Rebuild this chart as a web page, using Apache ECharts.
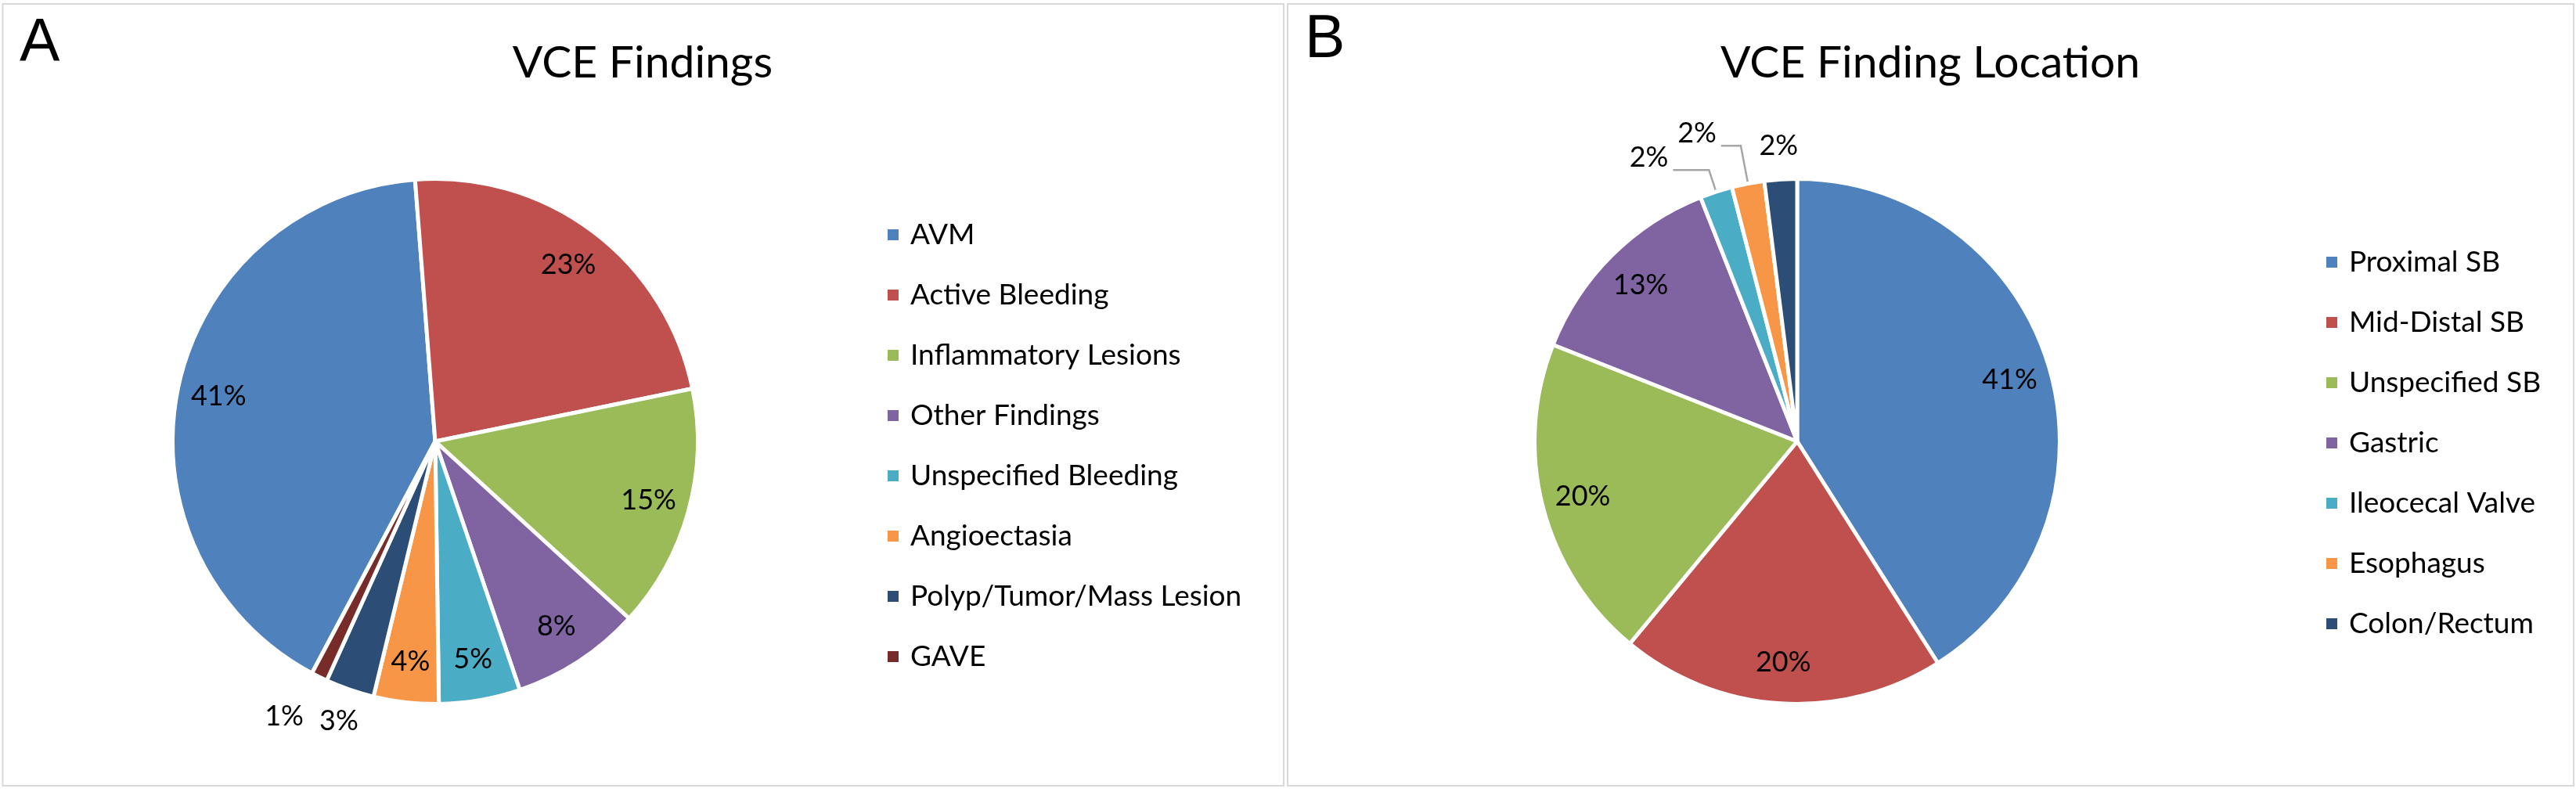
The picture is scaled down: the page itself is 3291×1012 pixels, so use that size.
<!DOCTYPE html>
<html>
<head>
<meta charset="utf-8">
<script src="https://cdn.jsdelivr.net/npm/echarts@6/dist/echarts.min.js"></script>
<style>
html,body{margin:0;padding:0;background:#fff;}
#chart{width:3291px;height:1012px;}
</style>
</head>
<body>
<div id="chart"></div>
<script>
// ---- Data ----
const categoriesA = ['AVM', 'Active Bleeding', 'Inflammatory Lesions', 'Other Findings', 'Unspecified Bleeding', 'Angioectasia', 'Polyp/Tumor/Mass Lesion', 'GAVE'];
const valuesA = [41, 23, 15, 8, 5, 4, 3, 1];
const categoriesB = ['Proximal SB', 'Mid-Distal SB', 'Unspecified SB', 'Gastric', 'Ileocecal Valve', 'Esophagus', 'Colon/Rectum'];
const valuesB = [41, 20, 20, 13, 2, 2, 2];
const titleA = 'VCE Findings';
const titleB = 'VCE Finding Location';

// ---- Styling ----
const colorsA = ['#4F81BD', '#C0504D', '#9BBB59', '#8064A2', '#4BACC6', '#F79646', '#2C4D75', '#772C2A'];
const colorsB = ['#4F81BD', '#C0504D', '#9BBB59', '#8064A2', '#4BACC6', '#F79646', '#2C4D75'];
const outerLabelsA = ['Polyp/Tumor/Mass Lesion', 'GAVE'];
const labelNudge = { 'GAVE': [-26, 12] };
const leaderLabelsB = { 'Ileocecal Valve': [29, 46], 'Esophagus': [49, 25] };
const outerLabelsB = ['Colon/Rectum'];
const FONT = 'Lato';
const R = 333;
const centerA = [556, 564];
const centerB = [2296, 564];

const pct = p => Math.round(p.percent) + '%';
const labelText = { color: '#000', fontFamily: FONT, fontSize: 36, formatter: pct, overflow: 'none' };

function visibleSeries(cats, vals, colors, center, startAngle, leader) {
  return {
    type: 'pie', center: center, radius: R + 2.5, startAngle: startAngle, clockwise: true,
    avoidLabelOverlap: false, animation: false,
    itemStyle: { borderColor: '#fff', borderWidth: 5 },
    emphasis: { disabled: true },
    label: Object.assign({ show: false, position: 'outside', distanceToLabelLine: 6 }, labelText),
    labelLine: { show: false },
    data: cats.map((n, i) => {
      const d = { name: n, value: vals[i], itemStyle: { color: colors[i] } };
      if (leader && leader[n]) {
        d.label = { show: true, offset: [0, -16] };
        d.labelLine = { show: true, length: leader[n][0], length2: leader[n][1], smooth: false,
          lineStyle: { color: '#A6A6A6', width: 2.5 } };
      }
      return d;
    })
  };
}

function labelRing(cats, vals, center, startAngle, radius, showFn) {
  return {
    type: 'pie', center: center, radius: radius, startAngle: startAngle, clockwise: true,
    avoidLabelOverlap: false, animation: false, silent: true,
    itemStyle: { color: 'rgba(0,0,0,0)', borderWidth: 0 },
    emphasis: { disabled: true },
    label: Object.assign({ show: true, position: 'inside' }, labelText),
    labelLine: { show: false },
    labelLayout: { hideOverlap: false },
    data: cats.map((n, i) => {
      const lab = { show: showFn(n) };
      if (labelNudge[n]) lab.offset = labelNudge[n];
      return { name: n, value: vals[i], label: lab };
    })
  };
}

const legendBase = {
  orient: 'vertical', icon: 'rect', itemWidth: 16, itemHeight: 16, itemGap: 37,
  selectedMode: false,
  textStyle: { color: '#000', fontFamily: FONT, fontSize: 37, lineHeight: 40, padding: [0, 0, 0, 9] }
};

const option = {
  backgroundColor: '#fff',
  title: [
    { text: 'A', left: 25, top: 18, padding: 0, textStyle: { fontFamily: 'Liberation Sans', fontSize: 77, fontWeight: 'normal', color: '#000' } },
    { text: 'B', left: 1667, top: 13, padding: 0, textStyle: { fontFamily: 'Liberation Sans', fontSize: 77, fontWeight: 'normal', color: '#000' } },
    { text: titleA, left: 821, textAlign: 'center', top: 52, padding: 0, textStyle: { fontFamily: FONT, fontSize: 57, fontWeight: 'normal', color: '#000' } },
    { text: titleB, left: 2466, textAlign: 'center', top: 52, padding: 0, textStyle: { fontFamily: FONT, fontSize: 57, fontWeight: 'normal', color: '#000' } }
  ],
  legend: [
    Object.assign({ left: 1127, top: 275, data: categoriesA }, legendBase),
    Object.assign({ left: 2965, top: 310, data: categoriesB }, legendBase)
  ],
  graphic: [
    { type: 'rect', shape: { x: 3.5, y: 5, width: 1636.5, height: 999 }, style: { fill: 'none', stroke: '#D9D9D9', lineWidth: 2 }, silent: true },
    { type: 'rect', shape: { x: 1645, y: 5, width: 1643, height: 999 }, style: { fill: 'none', stroke: '#D9D9D9', lineWidth: 2 }, silent: true }
  ],
  series: [
    visibleSeries(categoriesA, valuesA, colorsA, centerA, 242, null),
    visibleSeries(categoriesB, valuesB, colorsB, centerB, 90, leaderLabelsB),
    labelRing(categoriesA, valuesA, centerA, 242, [0.68 * R, R], n => !outerLabelsA.includes(n)),
    labelRing(categoriesA, valuesA, centerA, 242, [350, 400], n => outerLabelsA.includes(n)),
    labelRing(categoriesB, valuesB, centerB, 90, [0.68 * R, R], n => !(n in leaderLabelsB) && !outerLabelsB.includes(n)),
    labelRing(categoriesB, valuesB, centerB, 90, [350, 400], n => outerLabelsB.includes(n))
  ]
};

const chart = echarts.init(document.getElementById('chart'), null, { renderer: 'canvas' });
chart.setOption(option);
</script>
</body>
</html>
